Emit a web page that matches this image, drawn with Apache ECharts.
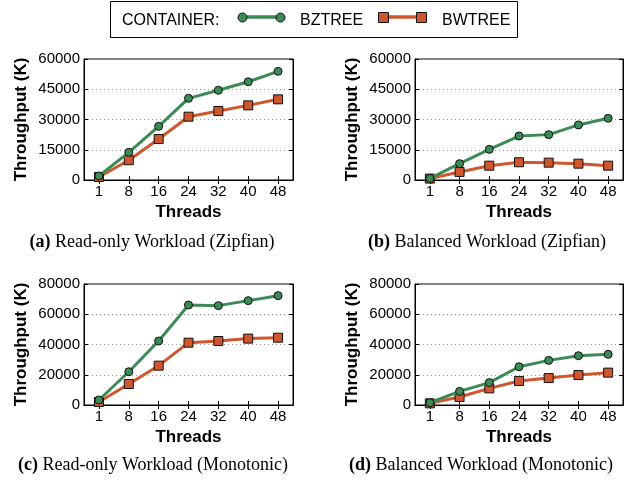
<!DOCTYPE html>
<html>
<head>
<meta charset="utf-8">
<script src="https://cdn.jsdelivr.net/npm/echarts@6/dist/echarts.min.js"></script>
<style>
html,body{margin:0;padding:0;background:#fff;}
#c{width:627px;height:480px;}
</style>
</head>
<body>
<div id="c"></div>
<script>
var threads = ['1', '8', '16', '24', '32', '40', '48'];
var seriesNames = ['BZTREE', 'BWTREE'];
var legendTitle = 'CONTAINER:';
var captions = [
  ['(a)', ' Read-only Workload (Zipfian)'],
  ['(b)', ' Balanced Workload (Zipfian)'],
  ['(c)', ' Read-only Workload (Monotonic)'],
  ['(d)', ' Balanced Workload (Monotonic)']
];
var yMax = [60000, 60000, 80000, 80000];
var yStep = [15000, 15000, 20000, 20000];

var bztreeA = [2000, 13700, 26600, 40500, 44500, 48700, 53900];
var bwtreeA = [1500, 9800, 20300, 31400, 34200, 37000, 40000];
var bztreeB = [800, 8100, 15200, 21800, 22500, 27300, 30600];
var bwtreeB = [700, 4000, 7100, 8800, 8600, 8100, 7100];
var bztreeC = [3300, 22000, 42300, 66100, 65700, 69000, 72300];
var bwtreeC = [2000, 13900, 26000, 41200, 42300, 43900, 44500];
var bztreeD = [1500, 9000, 14800, 25300, 29500, 32600, 33500];
var bwtreeD = [1100, 5300, 11000, 15900, 17800, 19800, 21400];

var panelData = [
  [bztreeA, bwtreeA],
  [bztreeB, bwtreeB],
  [bztreeC, bwtreeC],
  [bztreeD, bwtreeD]
];

var GREEN = '#3c8a56';
var ORANGE = '#d0572d';
var SANS = 'Liberation Sans';
var SERIF = 'Liberation Serif';

var grids = [
  {left: 84, top: 59, width: 209, height: 121},
  {left: 415, top: 59, width: 208, height: 121},
  {left: 84, top: 284, width: 209, height: 121},
  {left: 415, top: 284, width: 208, height: 121}
];
var captionPos = [[152, 242], [487, 242], [153, 465], [481, 465]];

var frame = 'M0,0L0.01,0L0,0.01Z M48,10L47.99,10L48,9.99Z ';
var circleIcon = 'path://M5,0.5A4.5,4.5 0 1,1 5,9.5A4.5,4.5 0 1,1 5,0.5ZM43,0.5A4.5,4.5 0 1,1 43,9.5A4.5,4.5 0 1,1 43,0.5Z' + ' ' + frame;
var squareIcon = 'path://M0,0L10,0L10,10L0,10ZM38,0L48,0L48,10L38,10Z';
var barIcon = 'path://' + frame + 'M8,3.2L40,3.2L40,6.8L8,6.8Z';

var legendLeft = [237, 378];
var legendTextX = [300, 442];

function legendItem(idx, icon, z, withBorder) {
  return {
    left: legendLeft[idx], top: 12, z: z, selectedMode: false,
    itemWidth: 48, itemHeight: 10, padding: 0,
    itemStyle: withBorder ? {borderColor: '#111', borderWidth: 1} : {borderWidth: 0},
    formatter: function () { return ''; },
    data: [{name: seriesNames[idx], icon: icon}]
  };
}

var option = {
  animation: false,
  backgroundColor: '#fff',
  grid: grids.map(function (g) {
    return Object.assign({show: true, borderColor: '#000', borderWidth: 1, containLabel: false}, g);
  }),
  xAxis: [],
  yAxis: [],
  series: [],
  legend: [
    legendItem(0, barIcon, 4, false),
    legendItem(1, barIcon, 4, false),
    legendItem(0, circleIcon, 5, true),
    legendItem(1, squareIcon, 5, true)
  ],
  graphic: [
    {type: 'rect', shape: {x: 110.5, y: 1.5, width: 407, height: 36}, style: {fill: 'none', stroke: '#000', lineWidth: 1}},
    {type: 'text', x: 122, y: 20.5, style: {text: legendTitle, font: '16px "Liberation Sans"', fill: '#000', textVerticalAlign: 'middle', verticalAlign: 'middle'}},
    {type: 'text', x: legendTextX[0], y: 20.5, style: {text: seriesNames[0], font: '16px "Liberation Sans"', fill: '#000', textVerticalAlign: 'middle', verticalAlign: 'middle'}},
    {type: 'text', x: legendTextX[1], y: 20.5, style: {text: seriesNames[1], font: '16px "Liberation Sans"', fill: '#000', textVerticalAlign: 'middle', verticalAlign: 'middle'}}
  ]
};

for (var i = 0; i < 4; i++) {
  option.xAxis.push({
    type: 'category', gridIndex: i, data: threads, boundaryGap: true,
    name: 'Threads', nameLocation: 'middle', nameGap: 24,
    nameTextStyle: {fontFamily: SANS, fontSize: 17, fontWeight: 'bold', color: '#000'},
    axisLine: {show: true, lineStyle: {color: '#000', width: 1}},
    axisTick: {show: true, inside: true, alignWithLabel: true, length: 4, lineStyle: {color: '#000'}},
    axisLabel: {fontFamily: SANS, fontSize: 15, color: '#000', margin: 4},
    splitLine: {show: false}
  });
  option.xAxis.push({
    type: 'category', gridIndex: i, data: threads, boundaryGap: true, position: 'top',
    axisLine: {show: true, lineStyle: {color: '#000', width: 1}},
    axisTick: {show: true, inside: true, alignWithLabel: true, length: 4, lineStyle: {color: '#000'}},
    axisLabel: {show: false}, splitLine: {show: false}
  });
  option.yAxis.push({
    type: 'value', gridIndex: i, min: 0, max: yMax[i], interval: yStep[i],
    name: 'Throughput (K)', nameLocation: 'middle', nameGap: 54, nameRotate: 90,
    nameTextStyle: {fontFamily: SANS, fontSize: 17, fontWeight: 'bold', color: '#000'},
    axisLine: {show: true, lineStyle: {color: '#000', width: 1}},
    axisTick: {show: true, inside: true, length: 4, lineStyle: {color: '#000'}},
    axisLabel: {fontFamily: SANS, fontSize: 15, color: '#000', margin: 4, formatter: function (v) { return String(v); }},
    splitLine: {show: true, lineStyle: {color: '#999', type: [1, 3], width: 1}}
  });
  option.yAxis.push({
    type: 'value', gridIndex: i, min: 0, max: yMax[i], interval: yStep[i], position: 'right',
    axisLine: {show: true, lineStyle: {color: '#000', width: 1}},
    axisTick: {show: true, inside: true, length: 4, lineStyle: {color: '#000'}},
    axisLabel: {show: false}, splitLine: {show: false}
  });
  for (var s = 0; s < 2; s++) {
    option.series.push({
      type: 'line', name: seriesNames[s],
      xAxisIndex: i * 2, yAxisIndex: i * 2,
      data: panelData[i][s],
      symbol: s === 0 ? 'circle' : 'rect',
      symbolSize: s === 0 ? 8 : 9,
      showAllSymbol: true,
      lineStyle: {color: s === 0 ? GREEN : ORANGE, width: 3},
      itemStyle: {color: s === 0 ? GREEN : ORANGE, borderColor: '#111', borderWidth: 1},
      z: s === 0 ? 3 : 2
    });
  }
  option.graphic.push({
    type: 'text', x: captionPos[i][0], y: captionPos[i][1],
    style: {
      text: '{b|' + captions[i][0] + '}{n|' + captions[i][1] + '}',
      rich: {
        b: {fontFamily: SERIF, fontSize: 18, fontWeight: 'bold', fill: '#000', color: '#000'},
        n: {fontFamily: SERIF, fontSize: 18, fill: '#000', color: '#000'}
      },
      align: 'center', verticalAlign: 'middle', textAlign: 'center', textVerticalAlign: 'middle'
    }
  });
}

var chart = echarts.init(document.getElementById('c'));
chart.setOption(option);
</script>
</body>
</html>
